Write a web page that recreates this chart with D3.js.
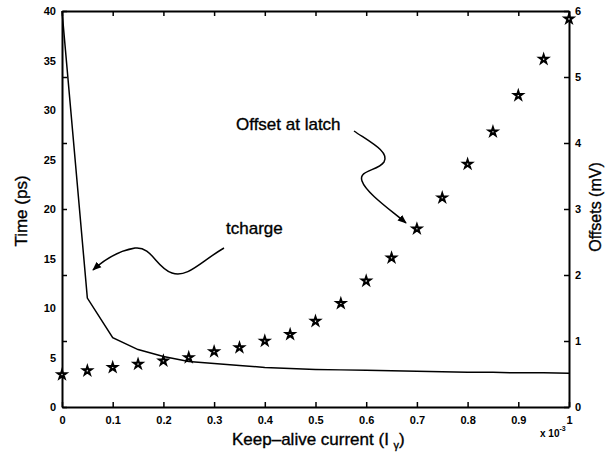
<!DOCTYPE html>
<html>
<head>
<meta charset="utf-8">
<script src="https://cdn.jsdelivr.net/npm/d3@7"></script>
<style>
body { margin: 0; background: #fff; }
text { font-family: "Liberation Sans", Arial, sans-serif; }
.lbl { stroke: #000; stroke-width: 0.35; }
</style>
</head>
<body>
<div id="chart"></div>
<script>
// keep-alive current (x 1e-3 A)
var current = [0, 0.05, 0.1, 0.15, 0.2, 0.25, 0.3, 0.35, 0.4, 0.45, 0.5,
               0.55, 0.6, 0.65, 0.7, 0.75, 0.8, 0.85, 0.9, 0.95, 1.0];
// tcharge (ps), left axis
var tcharge = [40, 11, 7, 5.8, 5.1, 4.6, 4.4, 4.2, 4.0, 3.9, 3.8,
               3.75, 3.7, 3.65, 3.6, 3.55, 3.5, 3.5, 3.45, 3.45, 3.4];
// offset at latch (mV), right axis
var offsets = [0.49, 0.55, 0.6, 0.65, 0.7, 0.75, 0.84, 0.9, 1.0, 1.1, 1.3,
               1.57, 1.91, 2.26, 2.7, 3.17, 3.68, 4.17, 4.72, 5.27, 5.88];

var xTicks = [0, 0.1, 0.2, 0.3, 0.4, 0.5, 0.6, 0.7, 0.8, 0.9, 1];
var yLeftTicks = [0, 5, 10, 15, 20, 25, 30, 35, 40];
var yRightTicks = [0, 1, 2, 3, 4, 5, 6];

var W = 606, H = 452;
var mrg = { top: 11, right: 37, bottom: 45, left: 62 };

var svg = d3.select("#chart").append("svg")
  .attr("width", W).attr("height", H);

var x = d3.scaleLinear().domain([0, 1]).range([mrg.left, W - mrg.right]);
var yL = d3.scaleLinear().domain([0, 40]).range([H - mrg.bottom, mrg.top]);
var yR = d3.scaleLinear().domain([0, 6]).range([H - mrg.bottom, mrg.top]);

function styleAxis(g) {
  g.select(".domain").attr("stroke", "#000").attr("stroke-width", 2);
  g.selectAll(".tick line").attr("stroke", "#000").attr("stroke-width", 1.5);
  g.selectAll(".tick text").attr("font-size", 11).attr("font-weight", "bold")
    .attr("fill", "#000").style("font-family", "Liberation Sans, Arial, sans-serif");
}

// bottom axis, ticks inward
svg.append("g")
  .attr("transform", `translate(0,${H - mrg.bottom})`)
  .call(d3.axisBottom(x).tickValues(xTicks).tickSizeInner(-5).tickSizeOuter(0)
    .tickPadding(9).tickFormat(d3.format("")))
  .call(styleAxis);

// top axis, no labels
svg.append("g")
  .attr("transform", `translate(0,${mrg.top})`)
  .call(d3.axisTop(x).tickValues(xTicks).tickSizeInner(-5).tickSizeOuter(0).tickFormat(""))
  .call(styleAxis);

// left axis (labels only, ticks from the right axis scale)
svg.append("g")
  .attr("transform", `translate(${mrg.left},0)`)
  .call(d3.axisLeft(yL).tickValues(yLeftTicks).tickSize(0).tickPadding(6))
  .call(styleAxis);
svg.append("g")
  .attr("transform", `translate(${mrg.left},0)`)
  .call(d3.axisRight(yR).tickValues(yRightTicks).tickSizeInner(5).tickSizeOuter(0).tickFormat(""))
  .call(styleAxis)
  .select(".domain").remove();

// right axis
svg.append("g")
  .attr("transform", `translate(${W - mrg.right},0)`)
  .call(d3.axisRight(yR).tickValues(yRightTicks).tickSizeInner(-5).tickSizeOuter(0)
    .tickPadding(6).tickFormat(d3.format("d")))
  .call(styleAxis);

// tcharge line
var line = d3.line()
  .x(function (d, i) { return x(current[i]); })
  .y(function (d) { return yL(d); });
svg.append("path")
  .datum(tcharge)
  .attr("d", line)
  .attr("fill", "none")
  .attr("stroke", "#000")
  .attr("stroke-width", 1.5);

// offset stars
svg.selectAll(".star")
  .data(offsets)
  .enter().append("path")
  .attr("class", "star")
  .attr("transform", function (d, i) { return `translate(${x(current[i])},${yR(d)})`; })
  .attr("d", d3.symbol().type(d3.symbolStar).size(22))
  .attr("fill", "#fff")
  .attr("stroke", "#000")
  .attr("stroke-width", 2);

// axis titles
svg.append("text")
  .attr("class", "lbl")
  .attr("transform", "translate(27,211) rotate(-90)")
  .attr("text-anchor", "middle")
  .attr("font-size", 17)
  .text("Time (ps)");

svg.append("text")
  .attr("class", "lbl")
  .attr("transform", "translate(601,207) rotate(-90)")
  .attr("text-anchor", "middle")
  .attr("font-size", 16)
  .text("Offsets (mV)");

var xl = svg.append("text")
  .attr("class", "lbl")
  .attr("x", 232)
  .attr("y", 445)
  .attr("font-size", 17);
xl.append("tspan").text("Keep\u2013alive current (I ");
xl.append("tspan").attr("font-size", 11).attr("dy", 4).text("\u03b3");
xl.append("tspan").attr("dy", -4).text(")");

var ex = svg.append("text")
  .attr("x", 540)
  .attr("y", 437)
  .attr("font-size", 10)
  .attr("font-weight", "bold");
ex.append("tspan").text("x 10");
ex.append("tspan").attr("font-size", 7).attr("dy", -6).text("-3");

// annotations
svg.append("defs").append("marker")
  .attr("id", "arr")
  .attr("viewBox", "0 0 10 10")
  .attr("refX", 9).attr("refY", 5)
  .attr("markerWidth", 9).attr("markerHeight", 9)
  .attr("markerUnits", "userSpaceOnUse")
  .attr("orient", "auto")
  .append("path").attr("d", "M0,1 L10,5 L0,9 Z").attr("fill", "#000");

svg.append("text")
  .attr("class", "lbl")
  .attr("x", 226).attr("y", 234)
  .attr("font-size", 17)
  .text("tcharge");

svg.append("path")
  .attr("d", "M224,248 C200,262 188,278 172,273 C156,268 152,246 135,248 C118,251 105,259 93,270")
  .attr("fill", "none").attr("stroke", "#000").attr("stroke-width", 1.5)
  .attr("marker-end", "url(#arr)");

svg.append("text")
  .attr("class", "lbl")
  .attr("x", 236).attr("y", 130)
  .attr("font-size", 17)
  .text("Offset at latch");

svg.append("path")
  .attr("d", "M354,131 C370,142 390,152 384,162 C378,171 358,170 362,181 C366,193 392,211 406,223")
  .attr("fill", "none").attr("stroke", "#000").attr("stroke-width", 1.5)
  .attr("marker-end", "url(#arr)");
</script>
</body>
</html>
